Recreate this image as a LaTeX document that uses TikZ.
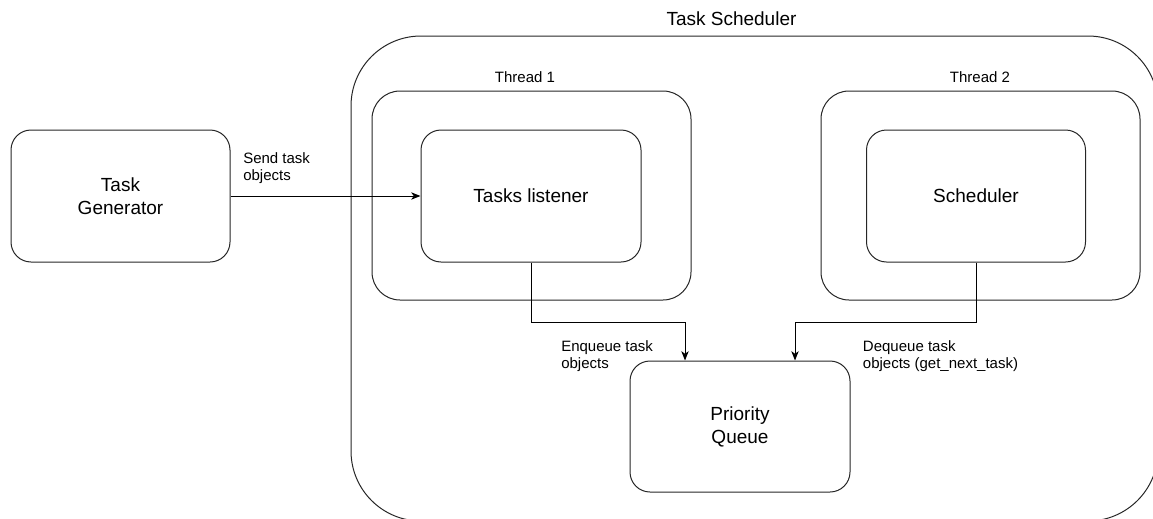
\documentclass[tikz,border=0pt]{standalone}
\usepackage{fontspec}
\setmainfont{Liberation Sans}
\usepackage{tikz}
\usetikzlibrary{arrows.meta}

\tikzset{
  box/.style={draw=black!85, line width=0.75pt, rounded corners=15pt, align=center, inner sep=0pt, font=\fontsize{14.25}{17.25}\selectfont},
  lbl/.style={align=left, anchor=base west, inner sep=0pt, font=\fontsize{11.25}{12.75}\selectfont},
  ttl/.style={anchor=base, inner sep=0pt},
  conn/.style={line width=0.75pt, -{Stealth[length=7pt,width=5.5pt,inset=2pt]}}
}

\begin{document}
\begin{tikzpicture}[x=0.75pt, y=-0.75pt]
     \useasboundingbox (0,0) rectangle (1153,518);
     \clip (0,0) rectangle (1153,518);
      % containers
      \node[box, rounded corners=52.5pt, minimum width=605.25pt, minimum height=363.75pt] (scheduler) at (754.5,278.5) {};
      \node[box, rounded corners=21pt, minimum width=239.25pt, minimum height=156.75pt] (thread1) at (531.5,195.5) {};
      \node[box, rounded corners=21pt, minimum width=239.25pt, minimum height=156.75pt] (thread2) at (980.5,195.5) {};
      \node[ttl, font=\fontsize{14.25}{17}\selectfont] (schedtitle) at (731.5,25) {Task Scheduler};
      \node[ttl, font=\fontsize{11.25}{13}\selectfont] (t1title) at (525,82) {Thread 1};
      \node[ttl, font=\fontsize{11.25}{13}\selectfont] (t2title) at (980,82) {Thread 2};
      % boxes
      \node[box, minimum width=164.25pt, minimum height=99pt] (generator) at (120.5,196) {Task\\Generator};
      \node[box, minimum width=165pt, minimum height=99pt] (listener) at (531,196) {Tasks listener};
      \node[box, minimum width=164.25pt, minimum height=99pt] (schedbox) at (976,196) {Scheduler};
      \node[box, minimum width=165pt, minimum height=98.25pt] (queue) at (740,426.5) {Priority\\Queue};
      % connectors
      \coordinate (enqbend) at (685,322);
      \coordinate (deqbend) at (795,322);
      \draw[conn] (generator.east) -- (listener.west);
      \draw[conn] (listener.south) |- (enqbend) -- (enqbend |- queue.north);
      \draw[conn] (schedbox.south) |- (deqbend) -- (deqbend |- queue.north);
      \node[lbl] (sendlbl) at (243,180) {Send task\\objects};
      \node[lbl] (enqlbl) at (561,368) {Enqueue task\\objects};
      \node[lbl] (deqlbl) at (862.7,368) {Dequeue task\\objects (get\_next\_task)};
      %\draw (scheduler.north) node[above] {};
\end{tikzpicture}
\end{document}
